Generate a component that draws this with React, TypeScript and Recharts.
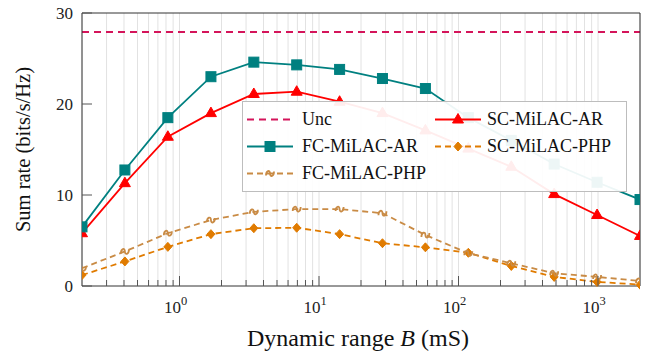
import React from "react";
import {
  CartesianGrid,
  Label,
  Legend,
  Line,
  LineChart,
  ReferenceLine,
  XAxis,
  YAxis,
} from "recharts";

// dynamic range B (mS), log-spaced sweep
const dynamicRange = [0.2, 0.406, 0.825, 1.68, 3.41, 6.92, 14.05, 28.5, 57.9, 117.6, 239, 485, 985, 2000];
const uncRate = 27.9;
const fcMilacAr = [6.5, 12.75, 18.5, 23.0, 24.6, 24.3, 23.8, 22.8, 21.7, 18.5, 16.0, 13.4, 11.4, 9.5];
const scMilacAr = [5.8, 11.3, 16.4, 19.0, 21.1, 21.35, 20.25, 19.0, 17.1, 15.1, 13.1, 10.1, 7.8, 5.5];
const fcMilacPhp = [1.95, 3.8, 5.8, 7.25, 8.15, 8.45, 8.45, 8.0, 5.6, 3.6, 2.5, 1.4, 1.0, 0.55];
const scMilacPhp = [1.2, 2.7, 4.3, 5.7, 6.35, 6.4, 5.7, 4.7, 4.25, 3.65, 2.2, 1.0, 0.45, 0.15];

const xTicks = [
  0.3, 0.4, 0.5, 0.6, 0.7, 0.8, 0.9,
  1, 2, 3, 4, 5, 6, 7, 8, 9,
  10, 20, 30, 40, 50, 60, 70, 80, 90,
  100, 200, 300, 400, 500, 600, 700, 800, 900,
  1000,
];
const xMajor = [1, 10, 100, 1000];
const yTicks = [0, 10, 20, 30];

const data = dynamicRange.map((b, i) => ({
  b,
  fcAr: fcMilacAr[i],
  scAr: scMilacAr[i],
  fcPhp: fcMilacPhp[i],
  scPhp: scMilacPhp[i],
}));

const FONT = "'Liberation Serif', 'Times New Roman', Times, 'DejaVu Serif', 'Noto Serif', serif";
const UNC = "#d4145a";
const TEAL = "#008080";
const RED = "#ff0000";
const FC_PHP = "#c98b45";
const SC_PHP = "#e07b00";
const AXIS = "#333";

const Square = ({ cx, cy }: any) => (
  <rect x={cx - 5} y={cy - 5} width={10} height={10} fill={TEAL} stroke={TEAL} />
);
const Triangle = ({ cx, cy }: any) => (
  <path d={`M${cx},${cy - 6} L${cx + 5.5},${cy + 3.5} L${cx - 5.5},${cy + 3.5} Z`} fill={RED} stroke={RED} />
);
const Diamond = ({ cx, cy }: any) => (
  <path d={`M${cx},${cy - 4.5} L${cx + 4},${cy} L${cx},${cy + 4.5} L${cx - 4},${cy} Z`} fill={SC_PHP} stroke={SC_PHP} />
);
const Squiggle = ({ cx, cy }: any) => (
  <path
    d={`M${cx - 4},${cy + 2} C${cx - 4},${cy - 3} ${cx},${cy - 4} ${cx},${cy} C${cx},${cy + 4} ${cx + 4},${cy + 3} ${cx + 4},${cy - 2}`}
    fill="none"
    stroke={FC_PHP}
    strokeWidth={1.8}
  />
);

const dot = (Shape: any) => (p: any) => <Shape key={`d${p.index}`} cx={p.cx} cy={p.cy} />;

const bottomTick = (p: any) => {
  const v = p.payload.value;
  const major = xMajor.includes(v);
  return (
    <g>
      <line x1={p.x} x2={p.x} y1={p.y} y2={p.y - (major ? 10 : 6)} stroke="#555" />
      {major && (
        <text x={p.x - 4} y={p.y + 27} textAnchor="middle" style={{ fontFamily: FONT }} fontSize={17} fill="#222">
          10
          <tspan dy={-8} fontSize={12.5}>{Math.round(Math.log10(v))}</tspan>
        </text>
      )}
    </g>
  );
};

const topTick = (p: any) => {
  const major = xMajor.includes(p.payload.value);
  return <line x1={p.x} x2={p.x} y1={p.y} y2={p.y + (major ? 10 : 6)} stroke="#555" />;
};

const leftTick = (p: any) => (
  <g>
    <line x1={p.x} x2={p.x + 10} y1={p.y} y2={p.y} stroke="#555" />
    <text x={p.x - 9} y={p.y + 6} textAnchor="end" style={{ fontFamily: FONT }} fontSize={17} fill="#222">
      {p.payload.value}
    </text>
  </g>
);

const rightTick = (p: any) => <line x1={p.x} x2={p.x - 10} y1={p.y} y2={p.y} stroke="#555" />;

const legendItems = [
  { name: "Unc", color: UNC, dash: "7 5", marker: null },
  { name: "SC-MiLAC-AR", color: RED, dash: undefined, marker: Triangle },
  { name: "FC-MiLAC-AR", color: TEAL, dash: undefined, marker: Square },
  { name: "SC-MiLAC-PHP", color: SC_PHP, dash: "6 4", marker: Diamond },
  { name: "FC-MiLAC-PHP", color: FC_PHP, dash: "6 4", marker: Squiggle },
];

const LegendBox = () => (
  <div
    style={{
      position: "relative",
      width: 385,
      height: 91,
      boxSizing: "border-box",
      border: "1px solid #bdbdbd",
      background: "rgba(255,255,255,0.93)",
      fontFamily: FONT,
      fontSize: 18,
      color: "#111",
    }}
  >
    {legendItems.map((it, i) => {
      const col = i % 2;
      const row = Math.floor(i / 2);
      const M = it.marker as any;
      return (
        <div key={it.name} style={{ position: "absolute", left: 0, top: 4 + row * 27, height: 27, width: "100%" }}>
          <svg
            width={46}
            height={27}
            style={{ position: "absolute", left: col === 0 ? 4 : 192, top: 0 }}
          >
            <line x1={0} x2={46} y1={13.5} y2={13.5} stroke={it.color} strokeWidth={2} strokeDasharray={it.dash} />
            {M && <M cx={23} cy={13.5} />}
          </svg>
          <span
            style={{
              position: "absolute",
              left: col === 0 ? 59 : 244,
              top: 2,
              lineHeight: "23px",
              whiteSpace: "nowrap",
            }}
          >
            {it.name}
          </span>
        </div>
      );
    })}
  </div>
);

const xLabel = (p: any) => {
  const vb = p.viewBox;
  return (
    <text x={vb.x + vb.width / 2 - 3} y={vb.y + 60} textAnchor="middle" style={{ fontFamily: FONT }} fontSize={24} fill="#111">
      Dynamic range <tspan fontStyle="italic">B</tspan> (mS)
    </text>
  );
};

const yLabel = (p: any) => {
  const vb = p.viewBox;
  const cy = vb.y + vb.height / 2;
  return (
    <text x={30} y={cy} transform={`rotate(-90 30 ${cy})`} textAnchor="middle" style={{ fontFamily: FONT }} fontSize={20.5} fill="#111">
      Sum rate (bits/s/Hz)
    </text>
  );
};

export default function App() {
  return (
    <div style={{ position: "absolute", left: 0, top: 0, width: 650, height: 352, background: "#fff", fontFamily: FONT }}>
      <LineChart width={650} height={352} data={data} margin={{ top: 0, right: 0, bottom: 0, left: 0 }}>
        <CartesianGrid horizontal={false} stroke="#e2e2e2" />
        <XAxis
          dataKey="b"
          type="number"
          scale="log"
          domain={[0.2, 2000]}
          allowDataOverflow
          ticks={xTicks}
          interval={0}
          height={66}
          tickSize={0}
          tickMargin={0}
          tickLine={false}
          tick={bottomTick}
          axisLine={{ stroke: AXIS }}
        >
          <Label content={xLabel} />
        </XAxis>
        <XAxis
          xAxisId="top"
          orientation="top"
          type="number"
          scale="log"
          domain={[0.2, 2000]}
          allowDataOverflow
          ticks={xTicks}
          interval={0}
          height={13}
          tickSize={0}
          tickMargin={0}
          tickLine={false}
          tick={topTick}
          axisLine={{ stroke: AXIS }}
        />
        <YAxis
          type="number"
          domain={[0, 30]}
          ticks={yTicks}
          interval={0}
          width={82}
          tickSize={0}
          tickMargin={0}
          tickLine={false}
          tick={leftTick}
          axisLine={{ stroke: AXIS }}
        >
          <Label content={yLabel} />
        </YAxis>
        <YAxis
          yAxisId="right"
          orientation="right"
          type="number"
          domain={[0, 30]}
          ticks={yTicks}
          interval={0}
          width={10}
          tickSize={0}
          tickMargin={0}
          tickLine={false}
          tick={rightTick}
          axisLine={{ stroke: AXIS }}
        />
        <ReferenceLine y={uncRate} stroke={UNC} strokeWidth={2} strokeDasharray="7 5" />
        <Line
          dataKey="scAr"
          stroke={RED}
          strokeWidth={1.8}
          dot={dot(Triangle)}
          activeDot={false}
          isAnimationActive={false}
        />
        <Line
          dataKey="fcAr"
          stroke={TEAL}
          strokeWidth={1.8}
          dot={dot(Square)}
          activeDot={false}
          isAnimationActive={false}
        />
        <Line
          dataKey="scPhp"
          stroke={SC_PHP}
          strokeWidth={1.8}
          strokeDasharray="6 4"
          dot={dot(Diamond)}
          activeDot={false}
          isAnimationActive={false}
        />
        <Line
          dataKey="fcPhp"
          stroke={FC_PHP}
          strokeWidth={1.8}
          strokeDasharray="6 4"
          dot={dot(Squiggle)}
          activeDot={false}
          isAnimationActive={false}
        />
        <Legend
          layout="vertical"
          align="center"
          verticalAlign="middle"
          wrapperStyle={{ left: 242, top: 101, width: 385, height: 91 }}
          content={() => <LegendBox />}
        />
      </LineChart>
    </div>
  );
}
